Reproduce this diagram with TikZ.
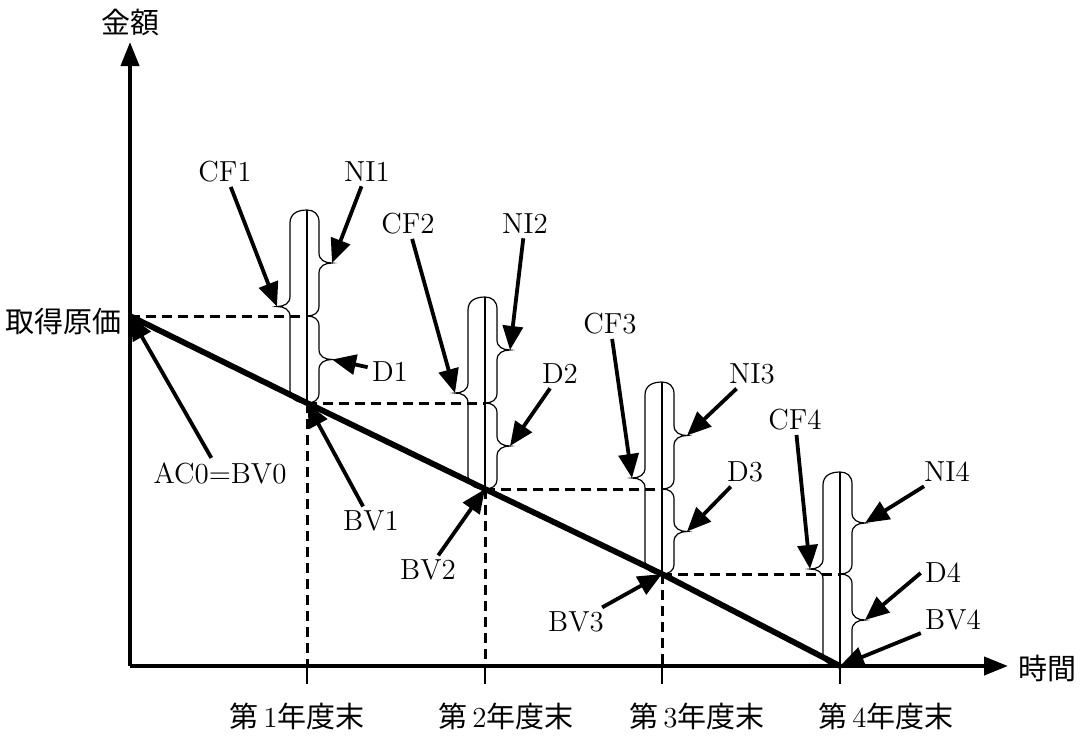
\documentclass[tikz,border=0pt]{standalone}
\usepackage{fontspec}
\newfontfamily\cjk{Noto Sans CJK JP}
\usetikzlibrary{arrows.meta}
\begin{document}
\begin{tikzpicture}[x=0.5pt,y=-0.5pt,
  thinln/.style={line width=0.6pt},
  dashln/.style={line width=1.5pt, dash pattern=on 5pt off 3pt},
  mainln/.style={line width=2.9pt, line join=round},
  axisln/.style={line width=2pt, -{Triangle[length=12pt,width=9pt]}},
  arr/.style={line width=1.9pt, -{Triangle[length=12pt,width=10pt]}},
  lbl/.style={font=\fontsize{14.5}{16}\selectfont, inner sep=2pt},
  jlbl/.style={font=\fontsize{14.5}{16}\selectfont, inner sep=0pt}]
\useasboundingbox (0,0) rectangle (1092,735);
% axes
\coordinate (O) at (130,666);
\coordinate (ytop) at (130,42);
\coordinate (xend) at (1008,666);
\draw[axisln] (O) -- (ytop);
\draw[axisln] (O) -- (xend);
\node[jlbl] (kingaku) at (130,22) {\cjk 金額};
\node[jlbl] (jikan) at (1047,668) {\cjk 時間};
\node[jlbl, anchor=east] (genka) at (122,322) {\cjk 取得原価};
% book values
\coordinate (BV0) at (130,316);
\coordinate (BV1) at (307,403);
\coordinate (BV2) at (485,489);
\coordinate (BV3) at (662,574);
\coordinate (BV4) at (840,666);
% ticks
\foreach \xc/\i in {307/1,485/2,662/3,840/4}{
  \coordinate (tk\i) at (\xc,684);
  \coordinate (ax\i) at (\xc,666);
  \draw[thinln] (ax\i) -- (tk\i);
}
% dashed guides
\coordinate (M1) at (307,316);
\coordinate (M2) at (485,403);
\coordinate (M3) at (662,489);
\coordinate (M4) at (840,574);
\draw[dashln] (BV0) -- (M1);
\draw[dashln] (BV1) -- (M2);
\draw[dashln] (BV2) -- (M3);
\draw[dashln] (BV3) -- (M4);
\draw[dashln] (BV1) -- (ax1);
\draw[dashln] (BV2) -- (ax2);
\draw[dashln] (BV3) -- (ax3);
% brackets
\foreach \xc/\t/\m/\b/\i in {307/210/316/403/1, 485/297/403/489/2, 662/382/489/574/3, 840/472/574/666/4}{
  \pgfmathsetmacro\cl{(\t+\b)/2}
  \pgfmathsetmacro\cn{(\t+\m)/2}
  \pgfmathsetmacro\cd{(\m+\b)/2}
  \pgfmathsetmacro\vl{\xc-17}
  \pgfmathsetmacro\vr{\xc+12}
  \coordinate (T\i) at (\xc,\t);
  \coordinate (tipL\i) at ({\xc-30},\cl);
  \coordinate (tipN\i) at ({\xc+25},\cn);
  \coordinate (tipD\i) at ({\xc+25},\cd);
  \draw[thinln] (\xc,\t) -- (\xc,\b);
  % left brace (CF)
  \draw[thinln] (\xc,\t) .. controls ({\xc-10},\t) and (\vl,{\t+4}) .. (\vl,{\t+13})
     -- (\vl,{\cl-10}) .. controls (\vl,{\cl-3}) and ({\vl-6},\cl) .. (tipL\i)
     .. controls ({\vl-6},\cl) and (\vl,{\cl+3}) .. (\vl,{\cl+10})
     -- (\vl,{\b-13}) .. controls (\vl,{\b-4}) and ({\xc-10},\b) .. (\xc,\b);
  % right brace (NI)
  \draw[thinln] (\xc,\t) .. controls ({\xc+7},\t) and (\vr,{\t+4}) .. (\vr,{\t+12})
     -- (\vr,{\cn-10}) .. controls (\vr,{\cn-3}) and ({\vr+6},\cn) .. (tipN\i)
     .. controls ({\vr+6},\cn) and (\vr,{\cn+3}) .. (\vr,{\cn+10})
     -- (\vr,{\m-10}) .. controls (\vr,{\m-3}) and ({\xc+7},\m) .. (\xc,\m);
  % right brace (D)
  \draw[thinln] (\xc,\m) .. controls ({\xc+7},\m) and (\vr,{\m+3}) .. (\vr,{\m+10})
     -- (\vr,{\cd-10}) .. controls (\vr,{\cd-3}) and ({\vr+6},\cd) .. (tipD\i)
     .. controls ({\vr+6},\cd) and (\vr,{\cd+3}) .. (\vr,{\cd+10})
     -- (\vr,{\b-10}) .. controls (\vr,{\b-3}) and ({\xc+7},\b) .. (\xc,\b);
}
\draw[thinln] (BV4) -- (tk4);
% main line
\draw[mainln] (BV0) -- (BV1) -- (BV2) -- (BV3) -- (BV4);
% labels
\node[lbl] (cf1) at (225,172) {CF1};
\node[lbl] (ni1) at (367,172) {NI1};
\node[lbl] (d1) at (390,372) {D1};
\node[lbl] (cf2) at (408,224) {CF2};
\node[lbl] (ni2) at (525,224) {NI2};
\node[lbl] (d2) at (560,374) {D2};
\node[lbl] (cf3) at (610,324) {CF3};
\node[lbl] (ni3) at (752,374) {NI3};
\node[lbl] (d3) at (745,472) {D3};
\node[lbl] (cf4) at (795,420) {CF4};
\node[lbl] (ni4) at (947,472) {NI4};
\node[lbl] (d4) at (943,573) {D4};
\node[lbl] (bv4) at (953,620) {BV4};
\node[lbl] (bv3) at (576,622) {BV3};
\node[lbl] (bv2) at (428,570) {BV2};
\node[lbl] (bv1) at (371,521) {BV1};
\node[lbl] (bv0) at (220,473) {AC0=BV0};
% arrows
\draw[arr] (cf1) -- (tipL1);
\draw[arr] (ni1) -- (tipN1);
\draw[arr] (d1) -- (tipD1);
\draw[arr] (cf2) -- (tipL2);
\draw[arr] (ni2) -- (tipN2);
\draw[arr] (d2) -- (tipD2);
\draw[arr] (cf3) -- (tipL3);
\draw[arr] (ni3) -- (tipN3);
\draw[arr] (d3) -- (tipD3);
\draw[arr] (cf4) -- (tipL4);
\draw[arr] (ni4) -- (tipN4);
\draw[arr] (d4.west) -- (tipD4);
\draw[arr] (bv4) -- (BV4);
\draw[arr] (bv3) -- (BV3);
\draw[arr] (bv2) -- (BV2);
\draw[arr] (bv1) -- (BV1);
\draw[arr] (bv0) -- (BV0);
% year labels
\node[jlbl] (y1) at (297,716) {{\cjk 第}\,1{\cjk 年度末}};
\node[jlbl] (y2) at (506,716) {{\cjk 第}\,2{\cjk 年度末}};
\node[jlbl] (y3) at (697,716) {{\cjk 第}\,3{\cjk 年度末}};
\node[jlbl] (y4) at (886,716) {{\cjk 第}\,4{\cjk 年度末}};
\end{tikzpicture}
\end{document}
